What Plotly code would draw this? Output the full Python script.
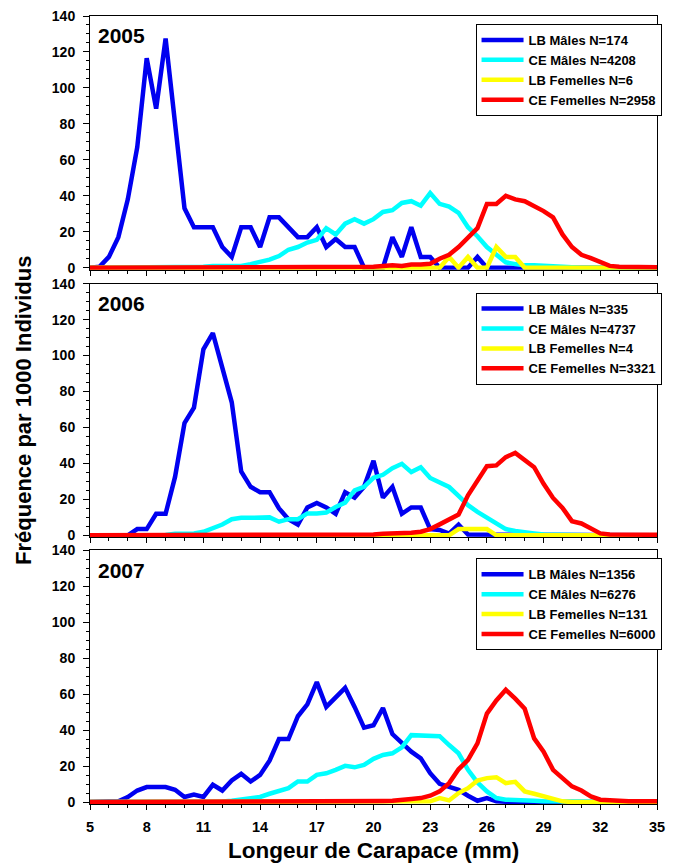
import plotly.graph_objects as go

LENGTHS = [5.0, 5.5, 6.0, 6.5, 7.0, 7.5, 8.0, 8.5, 9.0, 9.5,
           10.0, 10.5, 11.0, 11.5, 12.0, 12.5, 13.0, 13.5, 14.0, 14.5,
           15.0, 15.5, 16.0, 16.5, 17.0, 17.5, 18.0, 18.5, 19.0, 19.5,
           20.0, 20.5, 21.0, 21.5, 22.0, 22.5, 23.0, 23.5, 24.0, 24.5,
           25.0, 25.5, 26.0, 26.5, 27.0, 27.5, 28.0, 28.5, 29.0, 29.5,
           30.0, 30.5, 31.0, 31.5, 32.0, 32.5, 33.0, 33.5, 34.0, 34.5, 35.0]

YEARS = ["2005", "2006", "2007"]
SERIES_NAMES = ["LB Mâles", "CE Mâles", "LB Femelles", "CE Femelles"]
N_2005 = [174, 4208, 6, 2958]
N_2006 = [335, 4737, 4, 3321]
N_2007 = [1356, 6276, 131, 6000]

LB_M_2005 = [0, 0.5, 6, 17, 38, 67, 116.5, 88.5, 127.5, 78.5,
             33, 22.5, 22.5, 22.5, 11.5, 6, 22.5, 22.5, 11.5, 28,
             28, 22.5, 17, 17, 22.5, 11.5, 16, 11.5, 11.5, 0,
             0, 0, 17, 6, 22.5, 6, 6, 0, 0, 0,
             0, 6, 0, 0, 0, 0, 0, 0, 0, 0,
             0, 0, 0, 0, 0, 0, 0, 0, 0, 0, 0]
CE_M_2005 = [0, 0, 0, 0, 0, 0, 0, 0, 0, 0,
             0, 0.5, 0.5, 1, 1, 1, 1, 2, 3, 4.5,
             6.5, 10, 11.5, 14, 15.5, 22, 18.5, 24.5, 27, 24.5,
             27, 31, 32, 36, 37, 34.5, 41.5, 35.5, 34, 30.5,
             22.5, 17.5, 11.5, 7, 3, 2, 1.3, 1.3, 1, 0.5,
             0.5, 0.3, 0, 0, 0, 0, 0, 0, 0, 0, 0]
LB_F_2005 = [0, 0, 0, 0, 0, 0, 0, 0, 0, 0,
             0, 0, 0, 0, 0, 0, 0, 0, 0, 0,
             0, 0, 0, 0, 0, 0, 0, 0, 0, 0,
             0, 0, 0, 0, 0, 0, 0, 0, 6, 0,
             6, 0, 0, 11.5, 6, 6, 0, 0, 0, 0,
             0, 0, 0, 0, 0, 0, 0, 0, 0, 0, 0]
CE_F_2005 = [0, 0, 0, 0, 0, 0, 0, 0, 0, 0,
             0, 0, 0, 0, 0, 0, 0, 0, 0, 0,
             0, 0, 0, 0, 0.2, 0.3, 0.5, 0.5, 0.5, 0.5,
             0.5, 0.9, 1.3, 0.9, 1.8, 1.8, 2.2, 5, 7.2, 11.5,
             17, 22, 35.5, 35.5, 40, 38, 37, 34.5, 31.5, 28,
             18.5, 11.5, 7.2, 5.3, 3, 1, 0.5, 0.3, 0.3, 0.3, 0.3]

LB_M_2006 = [0, 0, 0, 0, 0, 3.5, 3.5, 12, 12, 32.5,
             62.5, 71, 103.5, 112.5, 93.5, 74, 35.5, 27, 24, 24,
             15, 9, 6, 15.5, 18, 15.5, 12, 24, 21, 27,
             41.5, 21, 27, 12, 15.5, 15.5, 3.5, 3, 1, 6,
             0.5, 0.5, 0.5, 0, 0, 0, 0, 0, 0, 0,
             0, 0, 0, 0, 0, 0, 0, 0, 0, 0, 0]
CE_M_2006 = [0, 0, 0, 0, 0, 0, 0, 0, 0.2, 0.9,
             1.1, 1.1, 2, 4, 6, 9, 9.8, 9.8, 9.8, 10,
             7.6, 9, 9, 12.2, 12.2, 12.7, 15.8, 18.2, 25, 27,
             32, 33.7, 37.4, 39.8, 35.2, 37.9, 31.9, 29.3, 26.9, 21.9,
             16.8, 13.1, 9.8, 6.1, 3.5, 2.4, 2, 1.1, 0.5, 0.3,
             0, 0, 0, 0, 0, 0, 0, 0, 0, 0, 0]
LB_F_2006 = [0, 0, 0, 0, 0, 0, 0, 0, 0, 0,
             0, 0, 0, 0, 0, 0, 0, 0, 0, 0,
             0, 0, 0, 0, 0, 0, 0, 0, 0, 0,
             0, 0, 0, 0, 0, 0, 0, 0, 0, 3.5,
             3.5, 3.5, 3.5, 0, 0, 0, 0, 0, 0, 0,
             0, 0, 0, 0, 0, 0, 0, 0, 0, 0, 0]
CE_F_2006 = [0, 0, 0, 0, 0, 0, 0, 0, 0, 0,
             0, 0, 0, 0, 0, 0, 0, 0, 0, 0,
             0, 0, 0, 0, 0, 0, 0.2, 0.3, 0.3, 0.4,
             0.5, 0.9, 0.9, 1.3, 1.5, 2, 3.5, 6.1, 9, 11.6,
             22.3, 30.6, 38.5, 38.9, 43.5, 45.9, 41.6, 37.9, 28.7, 20.8,
             15.3, 7.9, 6.6, 3.5, 1.1, 0.5, 0.3, 0.3, 0.3, 0.3, 0.3]

LB_M_2007 = [0, 0, 0, 0.4, 2.8, 6.4, 8.3, 8.3, 8.3, 6.8,
             2.8, 4.1, 2.8, 9.6, 6.4, 12, 15.7, 11.4, 15.1, 23,
             35, 35, 47.7, 54.3, 66.7, 52.9, 58, 63.5, 52.9, 41.4,
             42.7, 52.3, 37.8, 32.6, 28, 24.3, 16, 10.1, 8.7, 6.8,
             3.5, 0.7, 2.2, 0.4, 0.2, 0, 0, 0, 0, 0,
             0, 0, 0, 0, 0, 0, 0, 0, 0, 0, 0]
CE_M_2007 = [0, 0, 0, 0, 0, 0, 0, 0, 0, 0,
             0, 0.3, 0.3, 0.3, 0.3, 0.7, 1.3, 2.2, 2.8, 4.6,
             6.4, 7.7, 11.4, 11.4, 15.1, 16, 17.9, 20.1, 19.3, 20.6,
             24, 26.2, 27.1, 30.4, 37.2, 37.2, 36.6, 36.6, 31.7, 27.1,
             17.9, 10.9, 5.9, 2.2, 1.3, 0.9, 0.9, 0.7, 0.4, 0.4,
             0.4, 0.3, 0.2, 0, 0, 0, 0, 0, 0, 0, 0]
LB_F_2007 = [0, 0, 0, 0, 0, 0, 0, 0, 0, 0,
             0, 0, 0, 0, 0, 0, 0, 0, 0, 0,
             0, 0, 0, 0, 0, 0, 0.5, 0, 0, 0,
             0, 0, 0, 0, 0.2, 0.2, 0.4, 2.2, 0.9, 5,
             7.7, 12, 13.3, 13.8, 10.5, 11.2, 5.9, 4.6, 3.1, 1.7,
             0.4, 0, 0, 0, 0, 0, 0, 0, 0, 0, 0]
CE_F_2007 = [0, 0, 0, 0, 0, 0, 0, 0, 0, 0,
             0, 0, 0, 0, 0, 0, 0, 0, 0, 0,
             0.2, 0.2, 0.2, 0.2, 0.2, 0.3, 0.3, 0.3, 0.3, 0.4,
             0.5, 0.6, 0.7, 0.9, 1.7, 2.2, 3.5, 5.9, 10.5, 18.2,
             23.4, 32.6, 49.2, 56.5, 62.4, 57.5, 51.9, 35.4, 28, 17.9,
             13.3, 8.7, 6.4, 3.1, 1.3, 0.9, 0.4, 0.4, 0.4, 0.4, 0.4]

PANELS = [
    ([LB_M_2005, CE_M_2005, LB_F_2005, CE_F_2005], N_2005),
    ([LB_M_2006, CE_M_2006, LB_F_2006, CE_F_2006], N_2006),
    ([LB_M_2007, CE_M_2007, LB_F_2007, CE_F_2007], N_2007),
]
COLORS = ["#0000F0", "#00FFFF", "#FFFF00", "#FF0000"]

X_TICKS = [5, 8, 11, 14, 17, 20, 23, 26, 29, 32, 35]
Y_TICKS = [0, 20, 40, 60, 80, 100, 120, 140]

FONT = "Liberation Sans, Arial, sans-serif"

# layout geometry (pixels)
W, H = 673, 867
ML, MR, MT, MB = 90, 8, 15, 63
plot_h = H - MT - MB
panel_px = [(15, 269), (283, 537), (550, 804)]  # top, bottom in page px


def py_to_paper(py):
    return (H - MB - py) / plot_h


fig = go.Figure()

for p, (series, ns) in enumerate(PANELS):
    idx = "" if p == 0 else str(p + 1)
    for s, vals in enumerate(series):
        fig.add_trace(go.Scatter(
            x=LENGTHS, y=vals, mode="lines",
            name=f"{SERIES_NAMES[s]} N={ns[s]}",
            line=dict(color=COLORS[s], width=4.5),
            xaxis="x" + idx, yaxis="y" + idx,
            legend="legend" + idx,
            hoverinfo="skip",
        ))

layout = dict(
    width=W, height=H, autosize=False,
    margin=dict(l=ML, r=MR, t=MT, b=MB),
    paper_bgcolor="white", plot_bgcolor="white",
    font=dict(family=FONT, color="black", weight="bold"),
    annotations=[],
)

for p in range(3):
    idx = "" if p == 0 else str(p + 1)
    top, bot = panel_px[p]
    layout["xaxis" + idx] = dict(
        domain=[0, 1], range=[5, 35], anchor="y" + idx,
        tickmode="array", tickvals=X_TICKS, ticktext=[str(t) for t in X_TICKS],
        showticklabels=(p == 2),
        ticks="outside", ticklen=5, tickwidth=1, tickcolor="black",
        minor=dict(dtick=1, tick0=5, ticks="outside", ticklen=3, tickcolor="black"),
        showline=True, linecolor="black", linewidth=1, mirror=True,
        showgrid=False, zeroline=False, ticklabelstandoff=5,
        tickfont=dict(size=14.5, family=FONT, weight="bold"),
    )
    layout["yaxis" + idx] = dict(
        domain=[py_to_paper(bot), py_to_paper(top)], range=[-1.1, 140],
        anchor="x" + idx,
        tickmode="array", tickvals=Y_TICKS, ticktext=[str(t) for t in Y_TICKS],
        ticks="outside", ticklen=6, tickwidth=1, tickcolor="black",
        minor=dict(dtick=5, tick0=0, ticks="outside", ticklen=3, tickcolor="black"),
        showline=True, linecolor="black", linewidth=1, mirror=True,
        showgrid=False, zeroline=False, ticklabelstandoff=5,
        tickfont=dict(size=14, family=FONT, weight="bold"),
    )
    leg_top = [23, 292, 558][p]
    layout["legend" + idx] = dict(
        x=1.008, y=py_to_paper(leg_top), xanchor="right", yanchor="top",
        xref="paper", yref="paper",
        bgcolor="white", bordercolor="black", borderwidth=1,
        font=dict(size=13, family=FONT, weight="bold"),
        tracegroupgap=0, itemwidth=42,
    )
    layout["annotations"].append(dict(
        text=YEARS[p], xref=f"x{idx} domain", yref=f"y{idx} domain",
        x=0.011, y=0.975, xanchor="left", yanchor="top", showarrow=False,
        font=dict(size=21, family=FONT, weight="bold"),
    ))

layout["annotations"].append(dict(
    text="Fréquence par 1000 Individus", xref="paper", yref="paper",
    x=(22 - ML) / (W - ML - MR), y=0.5, xanchor="center", yanchor="middle",
    textangle=-90, showarrow=False,
    font=dict(size=22, family=FONT, weight="bold"),
))
layout["annotations"].append(dict(
    text="Longeur de Carapace (mm)", xref="paper", yref="paper",
    x=0.5, y=py_to_paper(851), xanchor="center", yanchor="middle",
    showarrow=False,
    font=dict(size=22.5, family=FONT, weight="bold"),
))

fig.update_layout(**layout)
fig.write_html("out.html")
